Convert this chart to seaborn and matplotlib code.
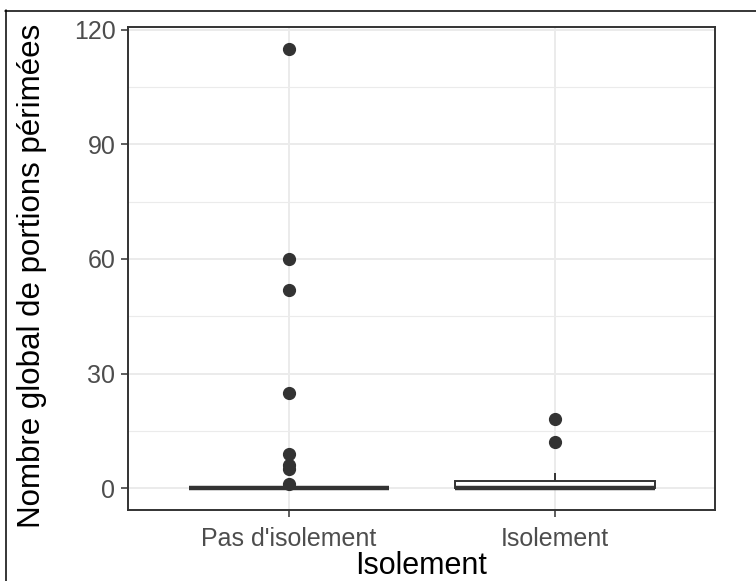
import matplotlib
matplotlib.use("Agg")
import matplotlib.pyplot as plt
import seaborn as sns
import pandas as pd
from matplotlib.lines import Line2D
from matplotlib.ticker import MultipleLocator

# ---- data ----
categories = ["Pas d'isolement", "Isolement"]
pas_isolement_zeros = 40
pas_isolement_nonzero = [1, 5, 6, 9, 25, 52, 60, 115]
isolement_zeros = 9
isolement_nonzero = [1, 2, 4, 12, 18]
y_ticks = [0, 30, 60, 90, 120]
x_title = "Isolement"
y_title = "Nombre global de portions périmées"

values_pas = [0] * pas_isolement_zeros + pas_isolement_nonzero
values_iso = [0] * isolement_zeros + isolement_nonzero
df = pd.DataFrame({
    "Isolement": [categories[0]] * len(values_pas) + [categories[1]] * len(values_iso),
    "Nombre": values_pas + values_iso,
})

sns.set_style("white")
plt.rcParams["font.family"] = ["Liberation Sans", "DejaVu Sans"]

W, H = 756, 581
fig = plt.figure(figsize=(W / 100, H / 100), dpi=100)
fig.patch.set_facecolor("white")
L, R, T, B = 128, 715, 27, 510
ax = fig.add_axes([L / W, 1 - B / H, (R - L) / W, (B - T) / H])
ax.set_facecolor("white")

grey20 = "#333333"

sns.boxplot(
    data=df, x="Isolement", y="Nombre", order=categories, ax=ax,
    width=0.75, color="white", linecolor=grey20, linewidth=1.4,
    showcaps=False,
    flierprops=dict(marker="o", markerfacecolor=grey20, markeredgecolor=grey20,
                    markersize=8.5),
    medianprops=dict(color=grey20, linewidth=3.2),
)

ax.set_axisbelow(True)
ax.yaxis.set_major_locator(MultipleLocator(30))
ax.yaxis.set_minor_locator(MultipleLocator(15))
ax.grid(True, which="major", axis="both", color="#EBEBEB", linewidth=1.4)
ax.grid(True, which="minor", axis="y", color="#EBEBEB", linewidth=0.8)

ax.set_xlim(-0.605, 1.6)
ax.set_ylim(-5.75, 120.75)
ax.set_yticks(y_ticks)
ax.set_yticklabels([str(v) for v in y_ticks])

for s in ax.spines.values():
    s.set_visible(True)
    s.set_color(grey20)
    s.set_linewidth(1.4)

ax.tick_params(axis="both", which="major", length=5, width=1.1, color=grey20,
               labelsize=18, labelcolor="#4D4D4D", pad=4, left=True, bottom=True)
ax.tick_params(axis="x", which="major", pad=7)
ax.tick_params(axis="y", which="minor", length=0)

ax.set_xlabel(x_title, fontsize=22, color="black")
ax.set_ylabel(y_title, fontsize=22.5, color="black")
ax.xaxis.set_label_coords(0.5, (B - 551) / (B - T))
ax.yaxis.set_label_coords((32 - L) / (R - L), 0.485)
ax.yaxis.label.set_va("center")

# outer frame lines seen in the reference
fig.add_artist(Line2D([5.5 / W, 5.5 / W], [0, 1 - 10 / H], color="black", linewidth=1.1))
fig.add_artist(Line2D([5 / W, 1], [1 - 10.5 / H, 1 - 10.5 / H], color="black", linewidth=1.1))

fig.savefig("out.png", dpi=100, facecolor="white")
